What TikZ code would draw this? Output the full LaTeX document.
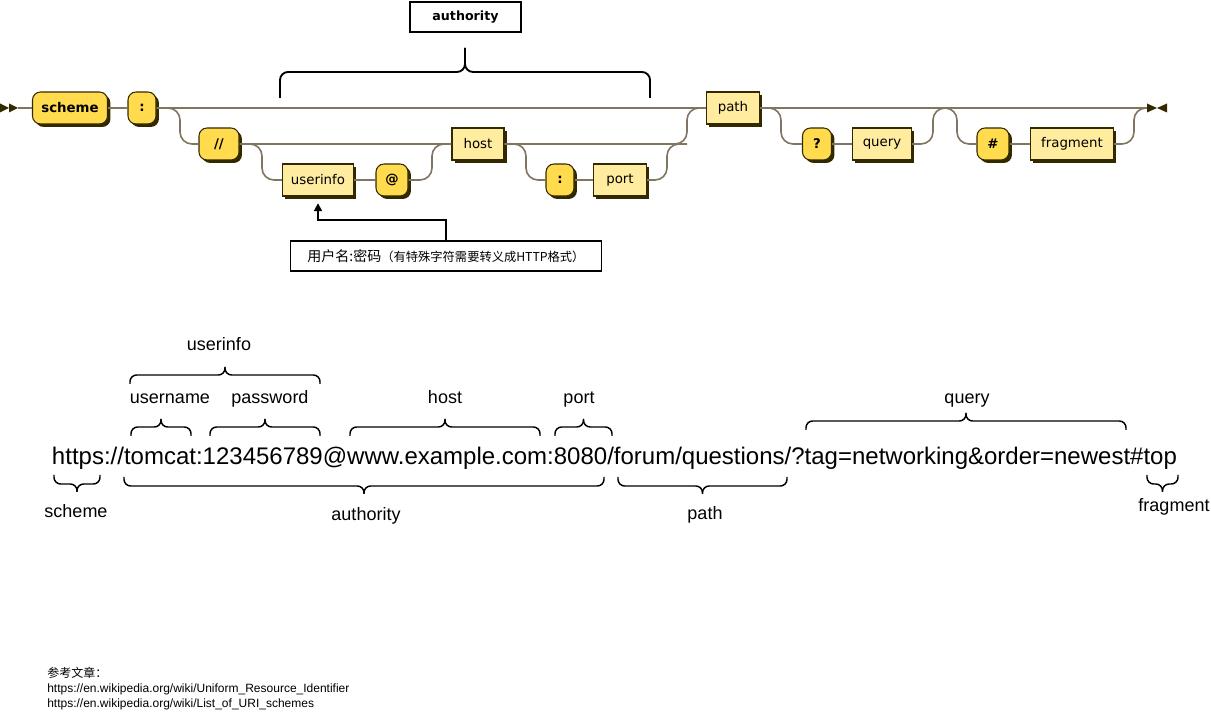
\documentclass[tikz,border=0pt]{standalone}
\usepackage{fontspec}
\setmainfont{Liberation Sans}
\newfontfamily\railfont{DejaVu Sans}
\newfontfamily\cjk{Noto Sans CJK SC}
\usetikzlibrary{shadows,arrows.meta}

\definecolor{termfill}{HTML}{FFDB4D}
\definecolor{ntermfill}{HTML}{FFEC9E}
\definecolor{edgec}{HTML}{332900}
\definecolor{trackc}{RGB}{128,118,96}

\tikzset{
  rail/.style={draw=edgec, line width=0.8pt, minimum height=24pt, inner sep=0pt,
    drop shadow={shadow xshift=2.2pt, shadow yshift=-2.2pt, fill=edgec, opacity=1}},
  term/.style={rail, fill=termfill, rounded corners=6pt,
    font=\railfont\bfseries\fontsize{10}{12}\selectfont},
  nterm/.style={rail, fill=ntermfill, font=\railfont\fontsize{10}{12}\selectfont},
  track/.style={draw=trackc, line width=1.2pt, rounded corners=9pt},
  notebox/.style={draw=black, line width=1.4pt, inner sep=0pt, minimum height=22.5pt},
  curly/.style={line width=1.1pt, rounded corners=5pt},
  partlbl/.style={anchor=base, font=\fontsize{13.5}{16}\selectfont}
}

% brace with legs pointing down: x1, x2, y of bar
\newcommand{\upbrace}[3]{%
  \draw[curly] (#1,#3+9) -- (#1,#3) -- ({(#1+#2)/2},#3) -- ({(#1+#2)/2},#3-8);
  \draw[curly] (#2,#3+9) -- (#2,#3) -- ({(#1+#2)/2},#3) -- ({(#1+#2)/2},#3-8);}
% brace with legs pointing up: x1, x2, y of bar
\newcommand{\downbrace}[3]{%
  \draw[curly] (#1,#3-9) -- (#1,#3) -- ({(#1+#2)/2},#3) -- ({(#1+#2)/2},#3+8);
  \draw[curly] (#2,#3-9) -- (#2,#3) -- ({(#1+#2)/2},#3) -- ({(#1+#2)/2},#3+8);}

\begin{document}
\begin{tikzpicture}[x=0.75pt,y=-0.75pt]
    \useasboundingbox (0,0) rectangle (1211,712);

    % railroad boxes
    \coordinate (start) at (18,108);
    \coordinate (finish) at (1147,108);
    \node[term, minimum width=56.25pt] (scheme) at (70,108) {scheme};
    \node[term, minimum width=21pt] (colA) at (142,108) {:};
    \node[term, minimum width=30pt] (slashes) at (219,144) {//};
    \node[nterm, minimum width=53.25pt] (userinfo) at (318,180) {userinfo};
    \node[term, minimum width=24pt] (atsign) at (392,180) {@};
    \node[nterm, minimum width=39pt] (host) at (478,144) {host};
    \node[term, minimum width=21pt] (colB) at (560,180) {:};
    \node[nterm, minimum width=39.75pt] (port) at (620,180) {port};
    \node[nterm, minimum width=39.75pt] (pathbox) at (733,108) {path};
    \node[term, minimum width=21.75pt] (qmark) at (817,144) {?};
    \node[nterm, minimum width=44.25pt] (query) at (882,144) {query};
    \node[term, minimum width=24pt] (hash) at (993,144) {\#};
    \node[nterm, minimum width=62.25pt] (fragment) at (1072,144) {fragment};

    % main track
    \draw[track] (start) -- (scheme.west);
    \draw[track] (scheme.east) -- (colA.west);
    \draw[track] (colA.east) -- (pathbox.west);
    \draw[track] (pathbox.east) -- (finish);

    % authority
    \draw[track] (colA.east) -- (180,108) -- (180,144) -- (slashes.west);
    \draw[track] (slashes.east) -- (host.west);
    \draw[track] (slashes.east) -- (262,144) -- (262,180) -- (userinfo.west);
    \draw[track] (userinfo.east) -- (atsign.west);
    \draw[track] (atsign.east) -- (432,180) -- (432,144) -- (host.west);
    \draw[track] (host.east) -- (687,144) -- (687,108) -- (pathbox.west);
    \draw[track] (host.east) -- (526,144) -- (526,180) -- (colB.west);
    \draw[track] (colB.east) -- (port.west);
    \draw[track] (port.east) -- (667,180) -- (667,144) -- (687,144);

    % query and fragment
    \draw[track] (pathbox.east) -- (781,108) -- (781,144) -- (qmark.west);
    \draw[track] (qmark.east) -- (query.west);
    \draw[track] (query.east) -- (933,144) -- (933,108) -- (957,108) -- (957,144) -- (hash.west);
    \draw[track] (hash.east) -- (fragment.west);
    \draw[track] (fragment.east) -- (1134,144) -- (1134,108) -- (finish);

    % start and end marks
    \fill[edgec] (0,103.5) -- (9,108) -- (0,112.5) -- cycle;
    \fill[edgec] (9,103.5) -- (18,108) -- (9,112.5) -- cycle;
    \fill[edgec] (1147,103.5) -- (1157,108) -- (1147,112.5) -- cycle;
    \fill[edgec] (1167,103.5) -- (1157,108) -- (1167,112.5) -- cycle;

    % authority note
    \node[notebox, minimum width=83.25pt, font=\railfont\bfseries\fontsize{9.5}{11}\selectfont] (authbox) at (465.5,17) {authority};
    \draw[line width=1.4pt, rounded corners=6pt] (280,98) -- (280,72) -- (465,72) -- (465,48);
    \draw[line width=1.4pt, rounded corners=6pt] (650,98) -- (650,72) -- (465,72) -- (465,48);

    % userinfo note
    \node[notebox, minimum width=233.25pt] (note) at (446,256) {\cjk\fontsize{10.5}{12}\selectfont 用户名:密码\fontsize{9.2}{11}\selectfont（有特殊字符需要转义成HTTP格式）};
    \draw[line width=1.4pt, -{Triangle[length=6pt,width=6pt]}] (note.north) -- ++(0,-20) -| ([yshift=-5pt]userinfo.south);

    % example uri
    \node[anchor=base, font=\fontsize{18}{22}\selectfont] (uri) at (614.5,465) {https://tomcat:123456789@www.example.com:8080/forum/questions/?tag=networking\&order=newest\#top};

    % braces above
    \upbrace{130}{320}{375}
    \upbrace{131}{191}{427}
    \upbrace{210}{320}{427}
    \upbrace{350}{540}{427}
    \upbrace{555}{612}{427}
    \upbrace{806}{1126}{421}
    \node[partlbl] (lbluserinfo) at (219,351) {userinfo};
    \node[partlbl] (lblusername) at (170,404) {username};
    \node[partlbl] (lblpassword) at (270,404) {password};
    \node[partlbl] (lblhost) at (445,404) {host};
    \node[partlbl] (lblport) at (579,404) {port};
    \node[partlbl] (lblquery) at (967,404) {query};

    % braces below
    \downbrace{54}{100}{484}
    \downbrace{124}{604}{486}
    \downbrace{618}{787}{486}
    \downbrace{1147}{1178}{484}
    \node[partlbl] (lblscheme) at (76,518) {scheme};
    \node[partlbl] (lblauthority) at (366,521) {authority};
    \node[partlbl] (lblpath) at (705,520) {path};
    \node[partlbl] (lblfragment) at (1174,512) {fragment};

    % references
    \node[anchor=base west, inner sep=0pt, font=\cjk\fontsize{9}{10}\selectfont] (refhead) at (47,678) {参考文章：};
    \node[anchor=base west, inner sep=0pt, font=\fontsize{9}{10}\selectfont] (refone) at (47,692.5) {https://en.wikipedia.org/wiki/Uniform\_Resource\_Identifier};
    \node[anchor=base west, inner sep=0pt, font=\fontsize{9}{10}\selectfont] (reftwo) at (47,707) {https://en.wikipedia.org/wiki/List\_of\_URI\_schemes};

\end{tikzpicture}
\end{document}
